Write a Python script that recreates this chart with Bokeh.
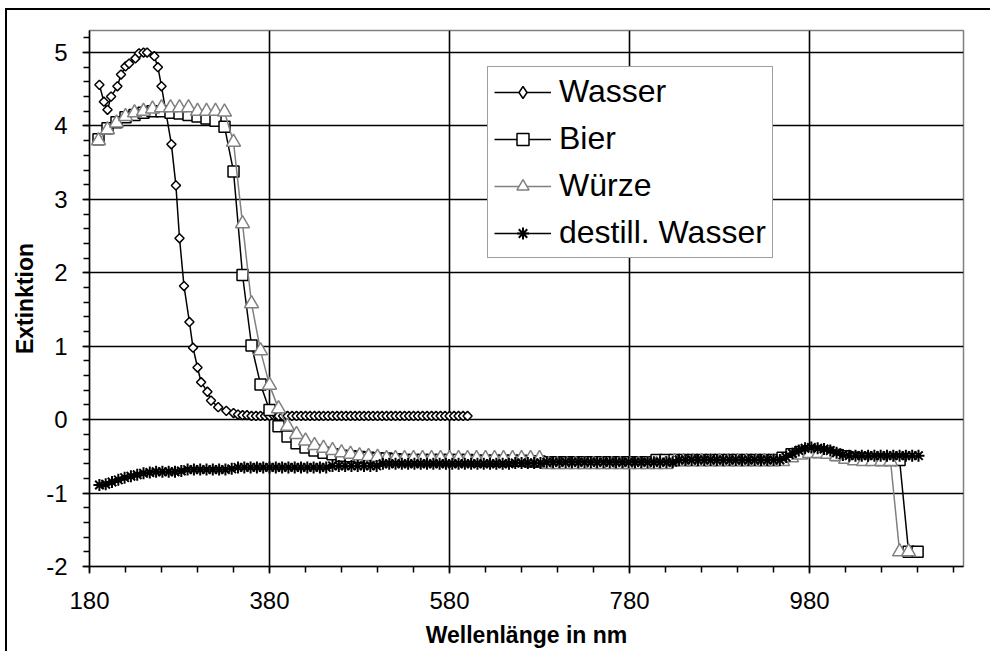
import numpy as np
from bokeh.plotting import figure
from bokeh.models import Range1d, FixedTicker, Legend, LegendItem
from bokeh.embed import file_html
from bokeh.resources import INLINE

# ---------------- data ----------------
x_ticks = [180, 380, 580, 780, 980]
y_ticks = [-2, -1, 0, 1, 2, 3, 4, 5]
y_tick_labels = {-2: "-2", -1: "-1", 0: "0", 1: "1", 2: "2", 3: "3", 4: "4", 5: "5"}

wasser_x = [191, 196, 200, 204, 211, 215, 220, 224, 231, 235, 240, 244, 252, 256,
            260, 271, 276, 280, 285, 291, 295, 300, 304, 311, 315, 323, 332, 340] + \
           list(range(345, 601, 5))
wasser_y = [4.56, 4.33, 4.22, 4.40, 4.54, 4.70, 4.81, 4.85, 4.92, 4.99, 5.00, 5.00, 4.95, 4.80,
            4.54, 3.75, 3.19, 2.47, 1.82, 1.33, 0.98, 0.71, 0.51, 0.38, 0.26, 0.17, 0.12, 0.09,
            0.07, 0.06, 0.06, 0.05, 0.05, 0.05, 0.05, 0.05, 0.05, 0.05,
            0.05, 0.05, 0.05, 0.05, 0.05, 0.05, 0.05, 0.05, 0.05, 0.05,
            0.05, 0.05, 0.05, 0.05, 0.05, 0.05, 0.05, 0.05, 0.05, 0.05,
            0.05, 0.05, 0.05, 0.05, 0.05, 0.05, 0.05, 0.05, 0.05, 0.05,
            0.05, 0.05, 0.05, 0.05, 0.05, 0.05, 0.05, 0.05, 0.05, 0.05,
            0.05, 0.05]

bier_x = list(range(190, 1101, 10))
bier_y = [3.82, 3.97, 4.05, 4.12, 4.15, 4.18, 4.20, 4.20, 4.18, 4.17,
          4.15, 4.13, 4.10, 4.07, 3.99, 3.38, 1.97, 1.01, 0.48, 0.13,
          -0.09, -0.23, -0.32, -0.38, -0.42, -0.45, -0.47, -0.49, -0.50, -0.51,
          -0.52, -0.53, -0.53, -0.54, -0.55, -0.55, -0.55, -0.55, -0.55, -0.55,
          -0.55, -0.55, -0.56, -0.56, -0.56, -0.56, -0.56, -0.56, -0.57, -0.57,
          -0.58, -0.58, -0.58, -0.58, -0.58, -0.58, -0.58, -0.58, -0.58, -0.58,
          -0.58, -0.58, -0.55, -0.55, -0.55, -0.55, -0.55, -0.55, -0.55, -0.55,
          -0.55, -0.55, -0.55, -0.55, -0.55, -0.55, -0.52, -0.47, -0.44, -0.43,
          -0.44, -0.45, -0.48, -0.50, -0.52, -0.53, -0.54, -0.55, -0.55, -0.55,
          -1.80, -1.80]

wuerze_x = list(range(190, 1091, 10))
wuerze_y = [3.80, 3.95, 4.04, 4.13, 4.18, 4.20, 4.23, 4.25, 4.25, 4.25,
            4.25, 4.20, 4.20, 4.20, 4.19, 3.78, 2.67, 1.58, 0.94, 0.47,
            0.15, -0.09, -0.20, -0.29, -0.35, -0.39, -0.42, -0.45, -0.47, -0.49,
            -0.50, -0.51, -0.53, -0.53, -0.53, -0.53, -0.53, -0.53, -0.53, -0.53,
            -0.53, -0.53, -0.53, -0.53, -0.53, -0.53, -0.53, -0.53, -0.53, -0.53,
            -0.61, -0.61, -0.61, -0.61, -0.61, -0.61, -0.61, -0.61, -0.61, -0.61,
            -0.61, -0.61, -0.61, -0.61, -0.57, -0.57, -0.57, -0.57, -0.57, -0.57,
            -0.57, -0.57, -0.57, -0.57, -0.57, -0.57, -0.57, -0.52, -0.48, -0.46,
            -0.46, -0.47, -0.50, -0.54, -0.56, -0.57, -0.57, -0.57, -0.57, -1.80,
            -1.80]

destill_x = list(range(191, 1102, 7))
destill_y = [-0.89, -0.88, -0.85, -0.82, -0.79, -0.77, -0.75, -0.73, -0.72, -0.71,
             -0.71, -0.71, -0.71, -0.70, -0.68, -0.68, -0.68, -0.68, -0.68, -0.68,
             -0.68, -0.67, -0.65, -0.65, -0.65, -0.65, -0.65, -0.65, -0.65, -0.65,
             -0.65, -0.65, -0.65, -0.65, -0.65, -0.65, -0.65, -0.63, -0.63, -0.63,
             -0.63, -0.63, -0.63, -0.63, -0.63, -0.60, -0.60, -0.60, -0.60, -0.60,
             -0.60, -0.60, -0.60, -0.60, -0.60, -0.60, -0.60, -0.60, -0.60, -0.60,
             -0.60, -0.60, -0.60, -0.60, -0.60, -0.60, -0.59, -0.59, -0.59, -0.59,
             -0.59, -0.58, -0.58, -0.58, -0.58, -0.58, -0.58, -0.58, -0.58, -0.58,
             -0.58, -0.58, -0.58, -0.58, -0.58, -0.58, -0.58, -0.58, -0.58, -0.58,
             -0.58, -0.58, -0.55, -0.55, -0.55, -0.55, -0.55, -0.55, -0.55, -0.55,
             -0.55, -0.55, -0.55, -0.55, -0.55, -0.55, -0.55, -0.55, -0.55, -0.51,
             -0.46, -0.42, -0.39, -0.38, -0.39, -0.40, -0.42, -0.45, -0.48, -0.49,
             -0.49, -0.49, -0.49, -0.49, -0.49, -0.49, -0.49, -0.49, -0.49, -0.49,
             -0.49]

assert len(wasser_x) == len(wasser_y), (len(wasser_x), len(wasser_y))
assert len(bier_x) == len(bier_y), (len(bier_x), len(bier_y))
assert len(wuerze_x) == len(wuerze_y), (len(wuerze_x), len(wuerze_y))
assert len(destill_x) == len(destill_y), (len(destill_x), len(destill_y))

FONT = "Liberation Sans"
GRAY = "#808080"

p = figure(width=985, height=643, output_backend="svg", toolbar_location=None,
           x_range=Range1d(180, 1151), y_range=Range1d(-2, 5.3),
           min_border_left=82, min_border_right=29, min_border_top=20, min_border_bottom=87)
p.styles = {"border-left": "2px solid black", "border-top": "2px solid black",
            "margin-left": "5px", "margin-top": "8px"}
p.background_fill_color = "white"
p.border_fill_color = "white"
p.outline_line_color = GRAY
p.outline_line_width = 1.5

xt = FixedTicker(ticks=x_ticks, minor_ticks=list(range(180, 1151, 40)))
yt = FixedTicker(ticks=y_ticks, minor_ticks=[round(-2 + 0.2 * i, 1) for i in range(37)])
p.xaxis.ticker = xt
p.yaxis.ticker = yt
p.xgrid.ticker = xt
p.ygrid.ticker = yt
p.yaxis.major_label_overrides = y_tick_labels
for g in (p.xgrid, p.ygrid):
    g.grid_line_color = "black"
    g.grid_line_width = 1.6

for ax in (p.xaxis[0], p.yaxis[0]):
    ax.axis_line_color = "black"
    ax.axis_line_width = 1.5
    ax.major_tick_line_color = "black"
    ax.major_tick_line_width = 1.5
    ax.major_tick_in = 0
    ax.major_tick_out = 7
    ax.minor_tick_line_color = "black"
    ax.minor_tick_line_width = 1.5
    ax.minor_tick_in = 0
    ax.minor_tick_out = 6
    ax.major_label_text_font = FONT
    ax.major_label_text_font_size = "24px"
    ax.major_label_text_color = "black"
    ax.axis_label_text_font = FONT
    ax.axis_label_text_font_size = "23px"
    ax.axis_label_text_font_style = "bold"
    ax.axis_label_text_color = "black"

p.xaxis.axis_label = "Wellenlänge in nm"
p.yaxis.axis_label = "Extinktion"
p.xaxis.major_label_standoff = 18
p.yaxis.major_label_standoff = 15
p.xaxis.axis_label_standoff = 10
p.yaxis.axis_label_standoff = 5

# series
l1 = p.line(wasser_x, wasser_y, line_color="black", line_width=1.5)
s1 = p.scatter(wasser_x, wasser_y, marker="square", angle=np.pi / 4, size=6.5,
               fill_color="white", line_color="black", line_width=1.5)
l2 = p.line(bier_x, bier_y, line_color="black", line_width=1.5)
s2 = p.scatter(bier_x, bier_y, marker="square", size=11,
               fill_color="white", line_color="black", line_width=1.5)
l3 = p.line(wuerze_x, wuerze_y, line_color=GRAY, line_width=1.5)
s3 = p.scatter(wuerze_x, wuerze_y, marker="triangle", size=14,
               fill_color="white", line_color=GRAY, line_width=1.5)
l4 = p.line(destill_x, destill_y, line_color="black", line_width=1.5)
s4 = p.scatter(destill_x, destill_y, marker="asterisk", size=12,
               line_color="black", line_width=2)

# legend key glyphs (a NaN point: never shown in the plot, only in the legend)
nan = [float("nan")]
k1 = p.scatter(x=nan, y=nan, marker="diamond", size=10, fill_color="white",
               line_color="black", line_width=1.5)
k2 = p.scatter(x=nan, y=nan, marker="square", size=9, fill_color="white",
               line_color="black", line_width=1.5)
k3 = p.scatter(x=nan, y=nan, marker="triangle", size=12, fill_color="white",
               line_color=GRAY, line_width=1.5)
k4 = p.scatter(x=nan, y=nan, marker="asterisk", size=10, line_color="black", line_width=2)

legend = Legend(items=[
    LegendItem(label="Wasser", renderers=[l1, k1]),
    LegendItem(label="Bier", renderers=[l2, k2]),
    LegendItem(label="Würze", renderers=[l3, k3]),
    LegendItem(label="destill. Wasser", renderers=[l4, k4]),
], location=(398, 308))
legend.label_text_font = FONT
legend.label_text_font_size = "32px"
legend.label_text_color = "black"
legend.glyph_width = 57
legend.glyph_height = 30
legend.label_height = 30
legend.spacing = 10
legend.padding = 6
legend.margin = 0
legend.label_standoff = 8
legend.border_line_color = "#404040"
legend.border_line_width = 1
legend.background_fill_color = "white"
legend.background_fill_alpha = 1.0
p.add_layout(legend)

open("out.html", "w").write(file_html(p, INLINE))
